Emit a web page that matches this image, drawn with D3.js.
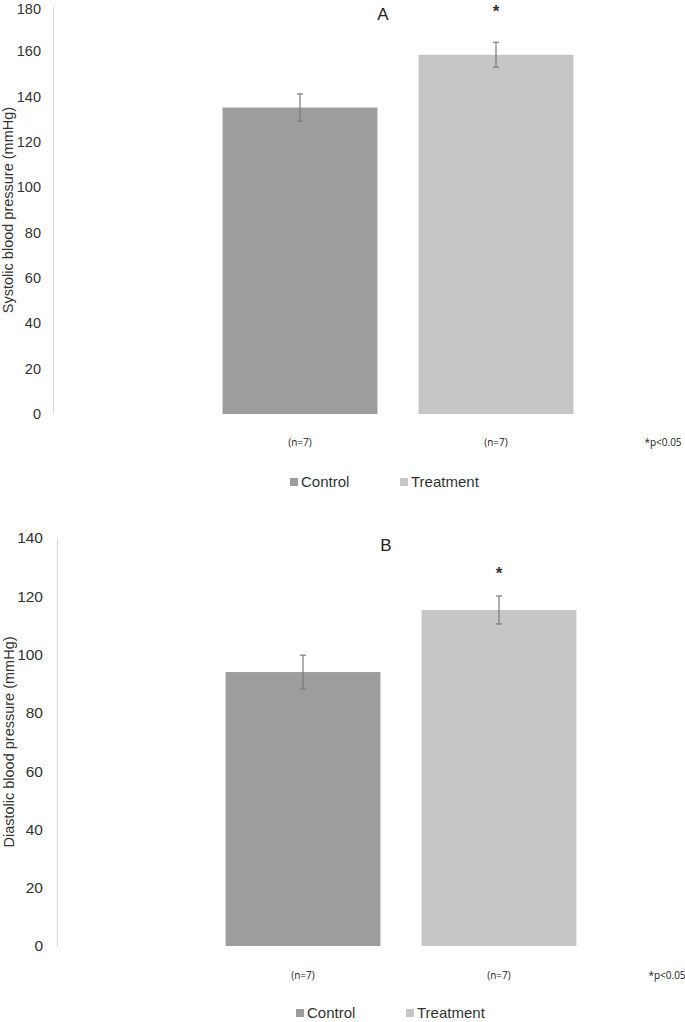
<!DOCTYPE html>
<html>
<head>
<meta charset="utf-8">
<script src="https://cdn.jsdelivr.net/npm/d3@7"></script>
<style>
  body { margin: 0; background: #fff; }
  svg { display: block; }
</style>
</head>
<body>
<div id="chart"></div>
<script>
// groups and labels
var groups = ["Control", "Treatment"];
var nLabels = ["(n=7)", "(n=7)"];
var colors = ["#9d9d9d", "#c6c6c7"];

// panel A: systolic
var sysMean = [135.2, 158.5];
var sysErr = [6.0, 5.5];
var sysTicks = [0, 20, 40, 60, 80, 100, 120, 140, 160, 180];

// panel B: diastolic
var diaMean = [94.0, 115.3];
var diaErr = [5.8, 4.8];
var diaTicks = [0, 20, 40, 60, 80, 100, 120, 140];

var width = 685, height = 1022;

var svg = d3.select("#chart")
  .append("svg")
  .attr("width", width)
  .attr("height", height);

function drawPanel(p) {
  var g = svg.append("g");

  var y = d3.scaleLinear()
    .domain([0, p.ticks[p.ticks.length - 1]])
    .range([p.bottom, p.top]);

  var x = d3.scaleBand()
    .domain(groups)
    .range([p.x0, p.x0 + 392])
    .paddingInner(0.21)
    .paddingOuter(0.105);

  // y axis
  var yAxis = g.append("g")
    .attr("transform", "translate(" + p.axisX + ",0)")
    .call(d3.axisLeft(y).tickValues(p.ticks).tickSize(0).tickPadding(p.axisX - p.labelX));
  yAxis.select(".domain").attr("stroke", "#d9d9d9");
  yAxis.selectAll("text")
    .attr("font-family", "Liberation Sans, Arial, sans-serif")
    .attr("font-size", p.tickSize)
    .attr("fill", "#333");
  // keep the top label inside the page
  yAxis.selectAll("text")
    .filter(function(d) { return y(d) - 8 < 0; })
    .attr("dy", "0.5em");

  g.append("text")
    .attr("transform", "translate(" + p.titleX + "," + ((p.top + p.bottom) / 2) + ") rotate(-90)")
    .attr("text-anchor", "middle")
    .attr("dy", "0.35em")
    .attr("font-family", "Liberation Sans, Arial, sans-serif")
    .attr("font-size", "14.5px")
    .attr("fill", "#333")
    .text(p.yTitle);

  // bars
  g.selectAll(".bar")
    .data(p.means)
    .enter().append("rect")
    .attr("class", "bar")
    .attr("x", function(d, i) { return x(groups[i]); })
    .attr("width", x.bandwidth())
    .attr("y", function(d) { return y(d); })
    .attr("height", function(d) { return y(0) - y(d); })
    .attr("fill", function(d, i) { return colors[i]; });

  // error bars
  var cx = function(i) { return x(groups[i]) + x.bandwidth() / 2; };
  var eb = g.selectAll(".err")
    .data(p.means)
    .enter().append("g")
    .attr("class", "err")
    .attr("stroke", "#7a7a7a")
    .attr("stroke-width", 1.2);
  eb.append("line")
    .attr("x1", function(d, i) { return cx(i); })
    .attr("x2", function(d, i) { return cx(i); })
    .attr("y1", function(d, i) { return y(d + p.errs[i]); })
    .attr("y2", function(d, i) { return y(d - p.errs[i]); });
  eb.append("line")
    .attr("x1", function(d, i) { return cx(i) - 3; })
    .attr("x2", function(d, i) { return cx(i) + 3; })
    .attr("y1", function(d, i) { return y(d + p.errs[i]); })
    .attr("y2", function(d, i) { return y(d + p.errs[i]); });
  eb.append("line")
    .attr("x1", function(d, i) { return cx(i) - 3; })
    .attr("x2", function(d, i) { return cx(i) + 3; })
    .attr("y1", function(d, i) { return y(d - p.errs[i]); })
    .attr("y2", function(d, i) { return y(d - p.errs[i]); });

  // significance star
  g.append("text")
    .attr("x", cx(1))
    .attr("y", p.starY)
    .attr("text-anchor", "middle")
    .attr("font-family", "Liberation Sans, Arial, sans-serif")
    .attr("font-size", "17px")
    .attr("font-weight", "bold")
    .attr("fill", "#333")
    .text("*");

  // panel title
  g.append("text")
    .attr("x", p.letterX)
    .attr("y", p.letterY)
    .attr("text-anchor", "middle")
    .attr("font-family", "Liberation Sans, Arial, sans-serif")
    .attr("font-size", "17px")
    .attr("fill", "#222")
    .text(p.letter);

  // category labels
  var xAxis = g.append("g")
    .attr("transform", "translate(0," + p.nY + ")")
    .call(d3.axisBottom(x).tickSize(0).tickPadding(0)
      .tickFormat(function(d, i) { return nLabels[i]; }));
  xAxis.select(".domain").remove();
  xAxis.selectAll("text")
    .attr("dy", "0.35em")
    .attr("font-family", "Open Sans, sans-serif")
    .attr("font-size", "10px")
    .attr("fill", "#222");

  g.append("text")
    .attr("x", p.pX)
    .attr("y", p.nY)
    .attr("dy", "0.35em")
    .attr("text-anchor", "middle")
    .attr("font-family", "Open Sans, sans-serif")
    .attr("font-size", "10px")
    .attr("fill", "#222")
    .text("*p<0.05");

  // legend
  var leg = g.selectAll(".leg")
    .data(groups)
    .enter().append("g")
    .attr("class", "leg")
    .attr("transform", function(d, i) { return "translate(" + (p.legX + i * 110) + "," + p.legY + ")"; });
  leg.append("rect")
    .attr("x", 0).attr("y", -4)
    .attr("width", 8).attr("height", 8)
    .attr("fill", function(d, i) { return colors[i]; });
  leg.append("text")
    .attr("x", 11)
    .attr("dy", "0.35em")
    .attr("font-family", "Liberation Sans, Arial, sans-serif")
    .attr("font-size", "15px")
    .attr("fill", "#333")
    .text(function(d) { return d; });
}

drawPanel({
  means: sysMean, errs: sysErr, ticks: sysTicks, tickSize: "14.5px",
  top: 6, bottom: 414, axisX: 53, labelX: 41, x0: 202,
  yTitle: "Systolic blood pressure (mmHg)", titleX: 8,
  letter: "A", letterX: 383, letterY: 20, starY: 17,
  nY: 442, pX: 663, legX: 290, legY: 482
});

drawPanel({
  means: diaMean, errs: diaErr, ticks: diaTicks, tickSize: "15.5px",
  top: 538, bottom: 946, axisX: 57, labelX: 43, x0: 205,
  yTitle: "Diastolic blood pressure (mmHg)", titleX: 9,
  letter: "B", letterX: 386, letterY: 551, starY: 579,
  nY: 975, pX: 667, legX: 296, legY: 1013
});
</script>
</body>
</html>
